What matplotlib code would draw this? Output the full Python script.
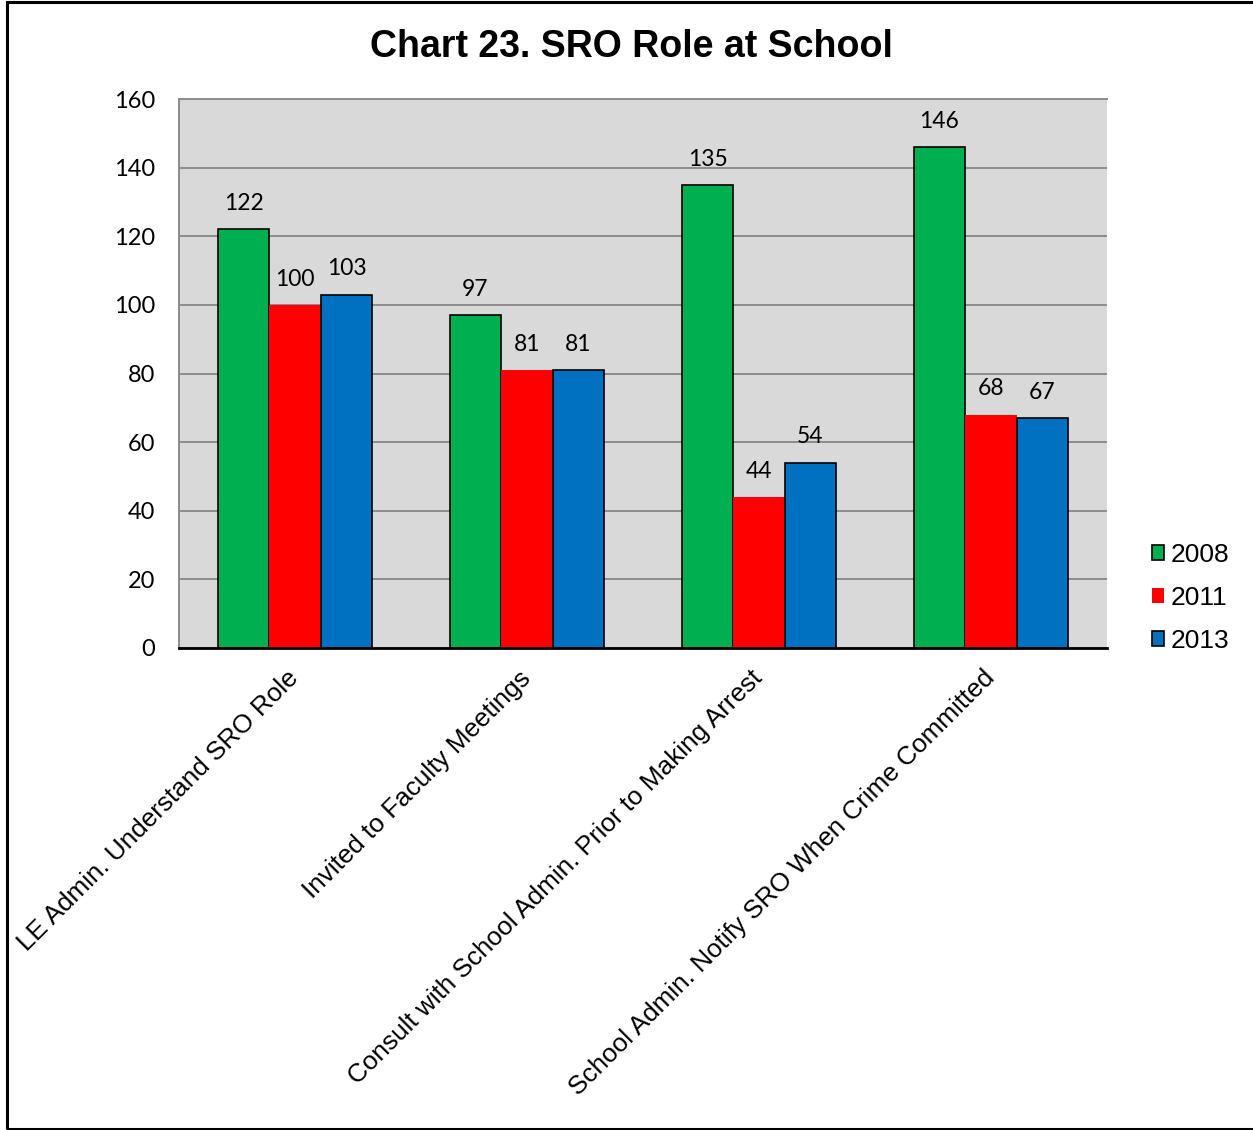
import matplotlib.pyplot as plt
import numpy as np
from matplotlib.patches import Patch, Rectangle

categories = [
    "LE Admin. Understand SRO Role",
    "Invited to Faculty Meetings",
    "Consult with School Admin. Prior to Making Arrest",
    "School Admin. Notify SRO When Crime Committed",
]
years = ["2008", "2011", "2013"]
values_2008 = [122, 97, 135, 146]
values_2011 = [100, 81, 44, 68]
values_2013 = [103, 81, 54, 67]
y_ticks = [0, 20, 40, 60, 80, 100, 120, 140, 160]

series = [values_2008, values_2011, values_2013]
colors = ["#00B050", "#FF0000", "#0070C0"]
edges = ["black", "none", "black"]

W, H = 1253, 1130
fig = plt.figure(figsize=(W / 100, H / 100), dpi=100)
fig.patch.set_facecolor("white")

# outer chart border (open on the right, like the source frame)
fig.patches.append(Rectangle((7 / W, 1 / H), 1.2, 1 - 3 / H, transform=fig.transFigure,
                             fill=False, edgecolor="black", linewidth=2.2, zorder=0))

ax = fig.add_axes([179 / W, 1 - 648 / H, (1107 - 179) / W, (648 - 99) / H])
ax.set_facecolor("#D9D9D9")

x = np.arange(len(categories))
bw = 0.222
for i, (vals, c, ec) in enumerate(zip(series, colors, edges)):
    pos = x + (i - 1) * bw
    bars = ax.bar(pos, vals, width=bw, color=c, edgecolor=ec,
                  linewidth=1.2 if ec != "none" else 0, zorder=3)
    for b, v in zip(bars, vals):
        ax.annotate(str(v), (b.get_x() + b.get_width() / 2, v),
                    xytext=(0, 11), textcoords="offset points",
                    ha="center", va="bottom", fontsize=16.5, family="Lato",
                    zorder=4)

ax.set_xlim(-0.5, len(categories) - 0.5)
ax.set_ylim(0, 160)
ax.set_yticks(y_ticks)
ax.set_yticklabels([str(t) for t in y_ticks], fontsize=17, family="Lato")
ax.tick_params(axis="y", length=0, pad=17)
ax.yaxis.grid(True, color="#8C8C8C", linewidth=1.4, zorder=1)
ax.set_axisbelow(True)

ax.set_xticks(x)
ax.set_xticklabels(categories, rotation=45, ha="right", va="center",
                   rotation_mode="anchor", fontsize=18.8, family="Liberation Sans")
ax.tick_params(axis="x", length=0, pad=19)

for side in ["top", "left"]:
    ax.spines[side].set_color("#8C8C8C")
    ax.spines[side].set_linewidth(1.4)
ax.spines["right"].set_visible(False)
ax.spines["bottom"].set_color("black")
ax.spines["bottom"].set_linewidth(2)
ax.spines["bottom"].set_zorder(5)

fig.text(631 / W, 1 - 47 / H, "Chart 23. SRO Role at School", ha="center", va="center",
         fontsize=27, fontweight="bold", family="Liberation Sans")

handles = [Patch(facecolor=c, edgecolor=ec, linewidth=1.2) for c, ec in zip(colors, edges)]
fig.legend(handles, years, loc="center left", bbox_to_anchor=(1128 / W, 1 - 598 / H),
           frameon=False, prop={"family": "Liberation Sans", "size": 19},
           handlelength=0.48, handleheight=0.48, handletextpad=0.25, labelspacing=0.72)

fig.savefig("out.png", dpi=100)
